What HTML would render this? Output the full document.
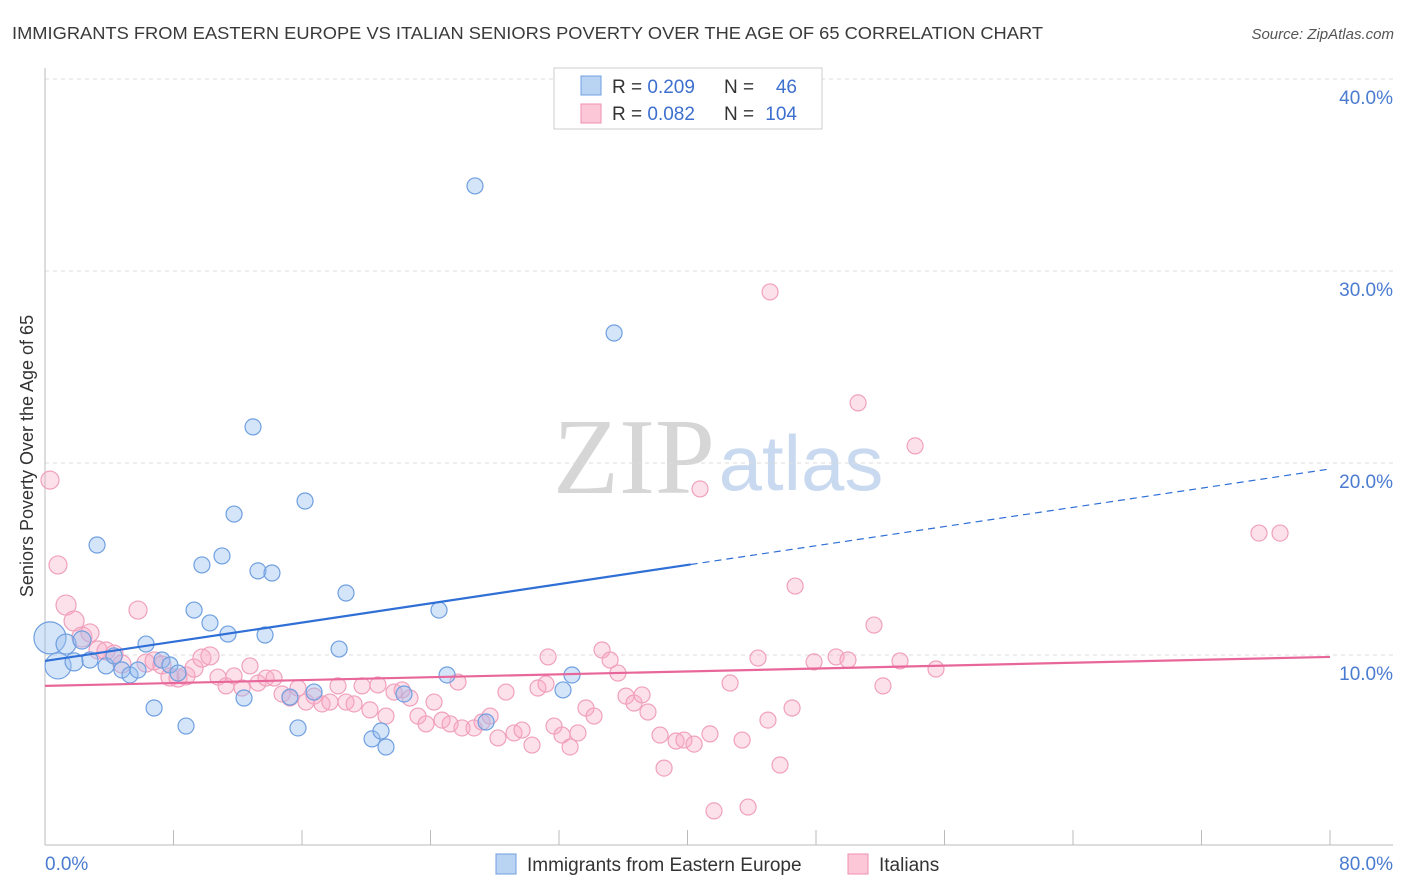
<!DOCTYPE html>
<html><head><meta charset="utf-8"><style>
body{margin:0;background:#fff;font-family:"Liberation Sans",sans-serif;}
#wrap{position:relative;width:1406px;height:892px;overflow:hidden;}
</style></head><body>
<div id="wrap">
<svg id="chart" width="1406" height="892">
<text x="12" y="39" font-size="17.5" fill="#3a3a3a" textLength="1031" lengthAdjust="spacingAndGlyphs">IMMIGRANTS FROM EASTERN EUROPE VS ITALIAN SENIORS POVERTY OVER THE AGE OF 65 CORRELATION CHART</text>
<text x="1394" y="39" font-size="15" fill="#555" font-style="italic" text-anchor="end">Source: ZipAtlas.com</text>
<text x="634" y="493" font-size="108" fill="#d6d6d6" font-family="Liberation Serif,serif" text-anchor="middle">ZIP</text>
<text x="801" y="490" font-size="78" fill="#c9daf0" text-anchor="middle">atlas</text>
<text transform="translate(33,456) rotate(-90)" font-size="18" fill="#333" text-anchor="middle">Seniors Poverty Over the Age of 65</text>
<g id="grid"></g><g id="axes"></g><g id="marks"></g>
<g>
<rect x="554" y="68" width="268" height="61" fill="#fff" stroke="#ccc"/>
<rect x="581" y="76" width="20" height="19" fill="#b9d3f3" stroke="#6f9fe0"/>
<rect x="581" y="104" width="20" height="19" fill="#fcc8d8" stroke="#ee8fb0"/>
<text x="612" y="93" font-size="19" fill="#333">R = <tspan fill="#3d6fcf">0.209</tspan></text>
<text x="724" y="93" font-size="19" fill="#333">N =</text>
<text x="797" y="93" font-size="19" fill="#3d6fcf" text-anchor="end">46</text>
<text x="612" y="120" font-size="19" fill="#333">R = <tspan fill="#3d6fcf">0.082</tspan></text>
<text x="724" y="120" font-size="19" fill="#333">N =</text>
<text x="797" y="120" font-size="19" fill="#3d6fcf" text-anchor="end">104</text>
</g>
<g>
<rect x="496" y="854" width="20" height="20" fill="#b9d3f3" stroke="#6f9fe0"/>
<text x="527" y="871" font-size="19" fill="#333">Immigrants from Eastern Europe</text>
<rect x="848" y="854" width="20" height="20" fill="#fcc8d8" stroke="#ee8fb0"/>
<text x="879" y="871" font-size="19" fill="#333">Italians</text>
</g>
</svg></div>
<script>
const xTicks=[0,8,16,24,32,40,48,56,64,72,80];
const yTicks=[10,20,30,40];
const yTickLabels=["10.0%","20.0%","30.0%","40.0%"];
const blueX=[0.31,0.81,1.31,1.81,2.30,2.80,3.24,3.80,4.30,4.79,5.29,5.79,6.29,6.79,7.28,7.78,8.28,8.78,9.28,9.77,10.27,11.02,11.39,11.77,12.39,12.95,13.26,13.70,14.13,15.25,15.75,16.19,16.75,18.31,18.74,20.36,20.92,21.23,22.35,24.53,25.03,26.77,27.46,32.25,32.81,35.43];
const blueY=[10.89,9.43,10.57,9.64,10.78,9.74,15.73,9.43,9.95,9.22,8.96,9.22,10.57,7.24,9.74,9.48,9.06,6.30,12.34,14.69,11.67,15.16,11.09,17.34,7.76,21.88,14.38,11.04,14.27,7.81,6.20,18.02,8.07,10.31,13.23,5.63,6.04,5.21,7.97,12.34,8.96,34.43,6.51,8.18,8.96,26.77];
const blueR=[16,13,10,9,9,8,8,8,8,8,8,8,8,8,8,8,8,8,8,8,8,8,8,8,8,8,8,8,8,8,8,8,8,8,8,8,8,8,8,8,8,8,8,8,8,8];
const pinkX=[0.31,0.81,1.31,1.81,2.30,2.80,3.30,3.80,4.30,4.79,5.79,6.29,6.79,7.28,7.78,8.28,8.78,9.28,9.77,10.27,10.77,11.27,11.77,12.27,12.76,13.26,13.76,14.26,14.76,15.25,15.75,16.25,16.75,17.25,17.74,18.24,18.74,19.24,19.74,20.23,20.73,21.23,21.73,22.23,22.72,23.22,23.72,24.22,24.72,25.22,25.71,25.96,26.71,27.21,27.71,28.20,28.70,29.20,29.70,30.32,30.69,31.19,31.69,32.19,32.69,33.18,33.68,34.18,34.68,35.18,35.67,36.17,36.67,37.17,37.54,38.29,38.54,39.29,39.78,40.41,40.78,41.40,41.65,43.40,43.77,44.39,45.01,45.14,45.76,46.51,46.70,47.88,49.25,49.99,50.62,51.61,52.17,53.23,54.17,55.47,75.58,76.89,42.65,31.32];
const pinkY=[19.11,14.69,12.60,11.77,10.94,11.15,10.26,10.21,10.05,9.53,12.34,9.58,9.69,9.48,8.85,8.80,8.91,9.32,9.84,9.95,8.85,8.39,8.91,8.28,9.43,8.54,8.80,8.80,7.97,7.76,8.28,7.55,7.86,7.45,7.55,8.39,7.55,7.45,8.39,7.14,8.44,6.82,8.07,8.18,7.76,6.82,6.41,7.55,6.61,6.41,8.59,6.20,6.20,6.51,6.82,5.68,8.07,5.94,6.09,5.31,8.28,8.49,6.30,5.83,5.21,5.94,7.24,6.82,10.26,9.74,9.06,7.86,7.50,7.92,7.03,5.83,4.11,5.52,5.57,5.36,18.65,5.89,1.88,5.57,2.08,9.84,6.61,28.91,4.27,7.24,13.59,9.64,9.90,9.74,23.13,11.56,8.39,9.69,20.89,9.27,16.35,16.35,8.54,9.90];
const pinkR=[9,9,10,10,10,9,9,9,9,9,9,9,9,9,9,9,9,9,9,9,8,8,8,8,8,8,8,8,8,8,8,8,8,8,8,8,8,8,8,8,8,8,8,8,8,8,8,8,8,8,8,8,8,8,8,8,8,8,8,8,8,8,8,8,8,8,8,8,8,8,8,8,8,8,8,8,8,8,8,8,8,8,8,8,8,8,8,8,8,8,8,8,8,8,8,8,8,8,8,8,8,8,8,8];
const blueTrend=[9.69,19.69];
const pinkTrend=[8.39,9.90];

const NS="http://www.w3.org/2000/svg";
const xs=v=>45+v*(1285/80);
const ys=v=>847-v*19.2;
function mk(tag,attrs,parent){const e=document.createElementNS(NS,tag);for(const k in attrs)e.setAttribute(k,attrs[k]);parent.appendChild(e);return e;}
const grid=document.getElementById('grid'),axes=document.getElementById('axes'),marks=document.getElementById('marks');
yTicks.forEach((t,i)=>{
 const l=mk('line',{x1:45,x2:1393,y1:ys(t),y2:ys(t),stroke:'#dcdcdc','stroke-dasharray':'4,4'},grid);
 
 
 const tx=mk('text',{x:1393,y:ys(t)+25,'font-size':19,fill:'#4a7bd0','text-anchor':'end'},axes);
 tx.textContent=yTickLabels[i];
 
 
});
const ax=mk('line',{x1:45,x2:45,y1:68,y2:845,stroke:'#bbb'},axes);


const bx=mk('line',{x1:45,x2:1393,y1:845,y2:845,stroke:'#bbb'},axes);


xTicks.forEach(t=>{
 const l=mk('line',{x1:xs(t),x2:xs(t),y1:830,y2:845,stroke:'#bbb'},axes);
 
 
});
const xl0=mk('text',{x:45,y:870,'font-size':19,fill:'#4a7bd0'},axes);xl0.textContent='0.0%';


const xl1=mk('text',{x:1393,y:870,'font-size':19,fill:'#4a7bd0','text-anchor':'end'},axes);xl1.textContent='80.0%';



pinkX.forEach((x,i)=>{
 const c=mk('circle',{cx:xs(x),cy:ys(pinkY[i]),r:pinkR[i],fill:'rgba(248,170,196,0.35)',stroke:'#f0a0bc','stroke-width':1.2},marks);
 
 
});
blueX.forEach((x,i)=>{
 const c=mk('circle',{cx:xs(x),cy:ys(blueY[i]),r:blueR[i],fill:'rgba(150,190,240,0.4)',stroke:'#6f9fe0','stroke-width':1.2},marks);
 
 
});
const bAt=x=>blueTrend[0]+(blueTrend[1]-blueTrend[0])*x/80;
const t1=mk('line',{x1:xs(0),y1:ys(bAt(0)),x2:xs(40.2),y2:ys(bAt(40.2)),stroke:'#2f6fd6','stroke-width':2.2},marks);


const t2=mk('line',{x1:xs(40.2),y1:ys(bAt(40.2)),x2:xs(80),y2:ys(bAt(80)),stroke:'#2f6fd6','stroke-width':1.2,'stroke-dasharray':'7,5'},marks);


const t3=mk('line',{x1:xs(0),y1:ys(pinkTrend[0]),x2:xs(80),y2:ys(pinkTrend[1]),stroke:'#e8679a','stroke-width':2.2},marks);


</script>
</body></html>
